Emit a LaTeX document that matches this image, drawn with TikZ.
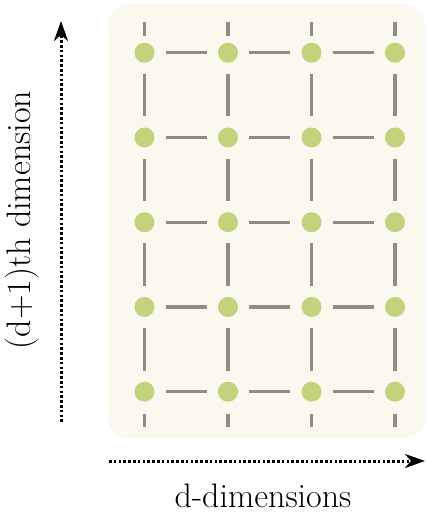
\documentclass[tikz,border=0pt]{standalone}
\usetikzlibrary{arrows.meta,positioning}
\definecolor{bgcream}{RGB}{250,248,239}
\definecolor{dotgreen}{RGB}{194,210,125}
\definecolor{edgegray}{RGB}{142,142,128}

\begin{document}
\begin{tikzpicture}[
    x=1pt, y=-1pt,
    font=\fontsize{34}{40}\selectfont,
    site/.style={circle, fill=dotgreen, minimum size=20pt, inner sep=0pt},
    link/.style={edgegray, line width=3.4pt, shorten <=11pt, shorten >=11pt},
    stub/.style={edgegray, line width=3.4pt},
    axis/.style={line width=3pt, dash pattern=on 2.6pt off 2.2pt, -{Stealth[length=20pt,width=14pt,inset=6pt]}},
  ]
    \useasboundingbox (0,0) rectangle (426,514);
    \fill[bgcream, rounded corners=20pt] (108,4) rectangle (425,438);

    % lattice sites
    \foreach \i in {0,...,3} {
      \foreach \j in {0,...,4} {
        \node[site] (s-\i-\j) at (144.5+83.5*\i, 52.7+84.75*\j) {};
      }
      \coordinate (top-\i) at (144.5+83.5*\i, 21.7);
      \coordinate (bot-\i) at (144.5+83.5*\i, 427);
    }

    % bonds
    \foreach \i/\k in {0/1,1/2,2/3} {
      \foreach \j in {0,...,4} {
        \draw[link] (s-\i-\j) -- (s-\k-\j);
      }
    }
    \foreach \i in {0,...,3} {
      \foreach \j/\k in {0/1,1/2,2/3,3/4} {
        \draw[link] (s-\i-\j) -- (s-\i-\k);
      }
      \draw[stub, shorten >=7pt] (top-\i) -- (s-\i-0);
      \draw[stub, shorten >=12pt] (bot-\i) -- (s-\i-4);
    }

    % axes
    \coordinate (vstart) at (61,422);
    \coordinate (vend) at (61,21);
    \coordinate (hstart) at (109,461);
    \coordinate (hend) at (425,461);
    \draw[axis] (vstart) -- (vend);
    \draw[axis] (hstart) -- (hend);

    \node[rotate=90] (vlabel) at (22,220) {(d+1)th dimension};
    \node[anchor=base, inner sep=0pt] (hlabel) at (263,507) {d-dimensions};
  \end{tikzpicture}
\end{document}
